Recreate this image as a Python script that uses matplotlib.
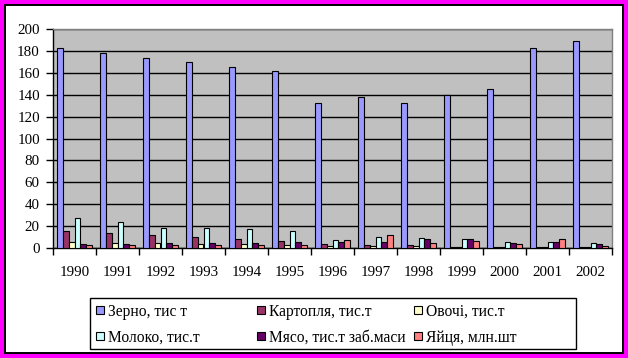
import matplotlib
matplotlib.use("Agg")
import matplotlib.pyplot as plt
import numpy as np
from matplotlib.patches import Rectangle

plt.rcParams['font.family'] = ['Liberation Serif', 'DejaVu Serif']

years = ['1990', '1991', '1992', '1993', '1994', '1995', '1996',
         '1997', '1998', '1999', '2000', '2001', '2002']
series_names = ['Зерно, тис т', 'Картопля, тис.т', 'Овочі, тис.т',
                'Молоко, тис.т', 'Мясо, тис.т заб.маси', 'Яйця, млн.шт']
zerno    = [182.6, 178.0, 173.5, 169.9, 165.3, 161.6, 132.4, 137.9, 132.4, 139.7, 145.2, 182.6, 189.0]
kartoplia = [15.8, 13.7, 11.9, 10.0, 8.2, 6.4, 3.5, 2.7, 2.7, 0.5, 0.5, 0.5, 0.5]
ovochi   = [5.5, 4.6, 4.6, 3.7, 3.7, 2.7, 1.8, 1.8, 1.8, 0.5, 0.5, 0.5, 0.5]
moloko   = [27.4, 23.7, 18.3, 18.3, 17.4, 15.5, 7.3, 10.0, 9.1, 8.2, 5.5, 5.5, 4.6]
miaso    = [3.7, 3.7, 4.6, 4.6, 4.6, 5.5, 5.5, 5.5, 8.2, 8.2, 4.6, 5.5, 3.7]
yaitsia  = [2.7, 2.7, 2.7, 2.7, 2.7, 2.7, 7.3, 11.9, 4.6, 6.4, 3.7, 8.2, 1.8]
colors = ['#9999FF', '#993366', '#FFFFCC', '#CCFFFF', '#660066', '#FF8080']

data = [zerno, kartoplia, ovochi, moloko, miaso, yaitsia]

W, H = 628, 358
fig = plt.figure(figsize=(W / 100, H / 100), dpi=100)
fig.patch.set_facecolor('#FF00FF')


def px_rect(x0, y0, x1, y1, **kw):
    """Rectangle in figure fraction from pixel coords (top-left origin)."""
    return Rectangle((x0 / W, 1 - y1 / H), (x1 - x0) / W, (y1 - y0) / H,
                     transform=fig.transFigure, **kw)


fig.patches.append(px_rect(4.5, 5, 622.5, 353, facecolor='white',
                           edgecolor='black', linewidth=1.4, zorder=-5))

ax = fig.add_axes([53 / W, 1 - 248 / H, (612 - 53) / W, (248 - 29) / H])
ax.set_zorder(2)
ax.set_facecolor('#C0C0C0')

n = len(years)
x = np.arange(n)
bw = 1 / 7.5
for i, (vals, c, name) in enumerate(zip(data, colors, series_names)):
    offs = -0.5 + 0.75 * bw + bw * i
    ax.bar(x + offs, vals, width=bw, align='edge', color=c,
           edgecolor='black', linewidth=0.8, label=name, zorder=3)

ax.set_xlim(-0.5, n - 0.5)
ax.set_ylim(0, 200)
ax.set_yticks(np.arange(0, 201, 20))
ax.yaxis.grid(True, color='black', linewidth=1.0, zorder=1)
ax.set_axisbelow(True)

ax.set_xticks(x)
ax.set_xticklabels(years)
ax.set_xticks(np.arange(-0.5, n, 1), minor=True)
ax.tick_params(axis='x', which='major', length=0, pad=13, labelsize=10.8)
ax.tick_params(axis='x', which='minor', length=5, width=1, color='black', direction='out')
ax.tick_params(axis='y', length=5, width=1, pad=4.5, labelsize=10.8, direction='out')

for s in ['top', 'right']:
    ax.spines[s].set_color('#808080')
    ax.spines[s].set_linewidth(1)
for s in ['left', 'bottom']:
    ax.spines[s].set_color('black')
    ax.spines[s].set_linewidth(1)

# Legend (Excel style: equal column widths)
fig.patches.append(px_rect(90, 298, 576, 349, facecolor='white',
                           edgecolor='black', linewidth=1.0, zorder=1))
col_x = [96, 257, 414]
row_y = [309.5, 336]
for k, name in enumerate(series_names):
    r, cidx = divmod(k, 3)
    mx, my = col_x[cidx], row_y[r]
    fig.patches.append(px_rect(mx, my - 4, mx + 8, my + 4, facecolor=colors[k],
                               edgecolor='black', linewidth=0.8, zorder=2))
    fig.text((mx + 12) / W, 1 - my / H, name, fontsize=11.2,
             ha='left', va='center_baseline')

fig.savefig('out.png', dpi=100, facecolor=fig.get_facecolor())
